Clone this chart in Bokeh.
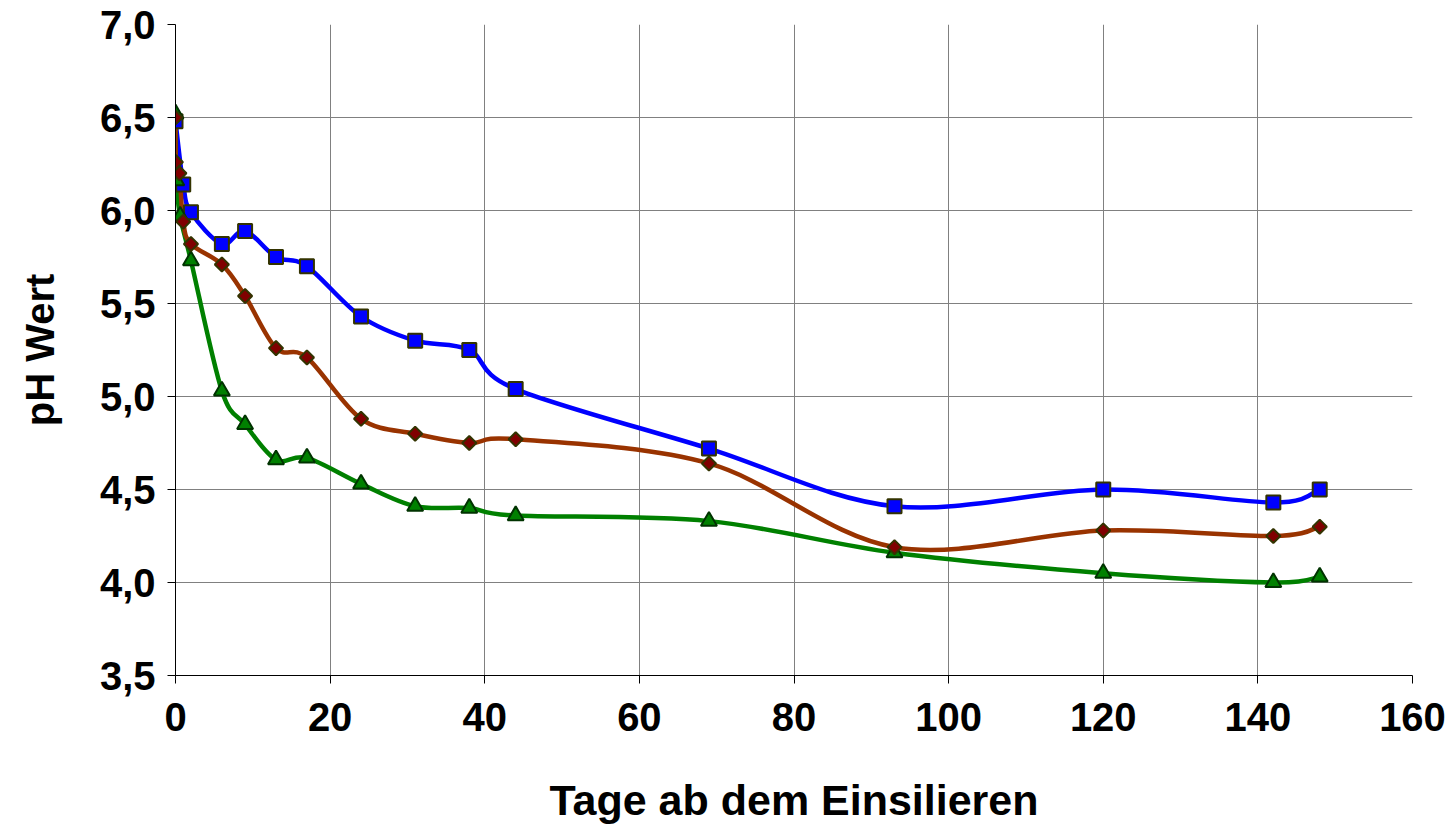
import math
from bokeh.plotting import figure
from bokeh.models import FixedTicker, CustomJSTickFormatter, Range1d
from bokeh.embed import file_html
from bokeh.resources import INLINE

# ---- data ----
days_blue = [0, 1, 2, 6, 9, 13, 17, 24, 31, 38, 44, 69, 93, 120, 142, 148]
ph_blue = [6.48, 6.14, 5.99, 5.82, 5.89, 5.75, 5.70, 5.43, 5.30, 5.25, 5.04, 4.72, 4.41, 4.50, 4.43, 4.50]

days_brown = [0, 0.05, 0.5, 1, 2, 6, 9, 13, 17, 24, 31, 38, 44, 69, 93, 120, 142, 148]
ph_brown = [6.50, 6.26, 6.20, 5.94, 5.82, 5.71, 5.54, 5.26, 5.21, 4.88, 4.80, 4.75, 4.77, 4.64, 4.19, 4.28, 4.25, 4.30]

days_green = [0, 0.1, 0.6, 2, 6, 9, 13, 17, 24, 31, 38, 44, 69, 93, 120, 142, 148]
ph_green = [6.52, 6.16, 5.97, 5.73, 5.03, 4.85, 4.66, 4.67, 4.53, 4.41, 4.40, 4.36, 4.33, 4.16, 4.05, 4.00, 4.03]

x_ticks = [0, 20, 40, 60, 80, 100, 120, 140, 160]
y_ticks = [3.5, 4.0, 4.5, 5.0, 5.5, 6.0, 6.5, 7.0]

x_label = "Tage ab dem Einsilieren"
y_label = "pH Wert"

FONT = "Liberation Sans"

p = figure(width=1450, height=827, output_backend="svg", toolbar_location=None,
           x_range=Range1d(0, 160), y_range=Range1d(3.5, 7.0),
           min_border_left=175, min_border_right=38, min_border_top=24, min_border_bottom=152)
p.outline_line_color = None
p.background_fill_color = "white"


def smooth_segments(xs, ys):
    """Bezier segments (Catmull-Rom style, as a smoothed line) through the points."""
    n = len(xs)
    x0, y0, x1, y1, cx0, cy0, cx1, cy1 = [], [], [], [], [], [], [], []
    for i in range(n - 1):
        xp, yp = (xs[i - 1], ys[i - 1]) if i > 0 else (xs[i], ys[i])
        xn, yn = (xs[i + 2], ys[i + 2]) if i + 2 < n else (xs[i + 1], ys[i + 1])
        x0.append(xs[i]); y0.append(ys[i])
        x1.append(xs[i + 1]); y1.append(ys[i + 1])
        cx0.append(xs[i] + (xs[i + 1] - xp) / 6.0)
        cy0.append(ys[i] + (ys[i + 1] - yp) / 6.0)
        cx1.append(xs[i + 1] - (xn - xs[i]) / 6.0)
        cy1.append(ys[i + 1] - (yn - ys[i]) / 6.0)
    return dict(x0=x0, y0=y0, x1=x1, y1=y1, cx0=cx0, cy0=cy0, cx1=cx1, cy1=cy1)


series = [
    (days_blue, ph_blue, "#0000FF", "square", "#0000FF", "#333300", 14, 0.0),
    (days_green, ph_green, "#008000", "triangle", "#008000", "#003300", 16, 0.0),
    (days_brown, ph_brown, "#993300", "square", "#800000", "#333300", 10, math.pi / 4),
]

for xs, ys, lc, marker, fc, oc, sz, ang in series:
    seg = smooth_segments(xs, ys)
    p.bezier(x0="x0", y0="y0", x1="x1", y1="y1", cx0="cx0", cy0="cy0", cx1="cx1", cy1="cy1",
             source=seg, line_color=lc, line_width=4.5, line_cap="round")
for xs, ys, lc, marker, fc, oc, sz, ang in series:
    p.scatter(xs, ys, marker=marker, size=sz, angle=ang, fill_color=fc, line_color=oc, line_width=2)

# axes
for ax in (p.xaxis[0], p.yaxis[0]):
    ax.axis_line_color = "black"
    ax.axis_line_width = 1
    ax.major_tick_line_color = "black"
    ax.major_tick_out = 8
    ax.major_tick_in = 0
    ax.minor_tick_out = 0
    ax.minor_tick_in = 0
    ax.major_label_text_font = FONT
    ax.major_label_text_font_style = "bold"
    ax.major_label_text_font_size = "40px"
    ax.major_label_text_color = "black"
    ax.axis_label_text_font = FONT
    ax.axis_label_text_font_style = "bold"
    ax.axis_label_text_color = "black"

p.xaxis.ticker = FixedTicker(ticks=x_ticks)
p.yaxis.ticker = FixedTicker(ticks=y_ticks)
p.yaxis.formatter = CustomJSTickFormatter(code="return tick.toFixed(1).replace('.', ',');")
p.xaxis.axis_label = x_label
p.yaxis.axis_label = y_label
p.xaxis.axis_label_text_font_size = "43px"
p.yaxis.axis_label_text_font_size = "40px"
p.xaxis.major_label_standoff = 19
p.yaxis.major_label_standoff = 12
p.xaxis.axis_label_standoff = 42
p.yaxis.axis_label_standoff = 35

p.xgrid.ticker = FixedTicker(ticks=x_ticks)
p.ygrid.ticker = FixedTicker(ticks=y_ticks)
p.grid.grid_line_color = "#808080"
p.grid.grid_line_width = 1

open("out.html", "w").write(file_html(p, INLINE))
